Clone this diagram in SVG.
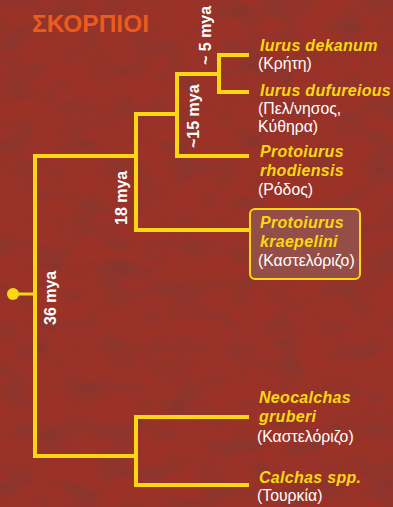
<svg xmlns="http://www.w3.org/2000/svg" width="393" height="507" viewBox="0 0 393 507">
  <defs>
    <filter id="grain" x="0" y="0" width="100%" height="100%">
      <feTurbulence type="fractalNoise" baseFrequency="0.03 0.05" numOctaves="5" seed="7" result="n"/>
      <feColorMatrix in="n" type="matrix" values="0 0 0 0 0.22  0 0 0 0 0.04  0 0 0 0 0.03  3.2 0 0 0 -1.45" result="d"/>
    </filter>
  </defs>
  <style>
    .bg { fill: #9a3228; }
    .tex { fill: #000; filter: url(#grain); opacity: 0.6; }
    .title { font-family: "Liberation Sans", Arial, sans-serif; font-weight: bold; font-size: 24px; fill: #ea5b1c; }
    .branch { fill: none; stroke: #f9d713; stroke-width: 4; stroke-linejoin: miter; stroke-linecap: butt; }
    .age { font-family: "Liberation Sans", Arial, sans-serif; font-weight: bold; font-size: 16px; fill: #ffffff; }
    .sp { font-family: "Liberation Sans", Arial, sans-serif; font-weight: bold; font-style: italic; font-size: 16px; letter-spacing: 0.3px; fill: #f9d713; }
    .loc { font-family: "Liberation Sans", Arial, sans-serif; font-size: 15.8px; fill: #ffffff; }
    .hl { fill: #94514a; fill-opacity: 0.9; stroke: #f9d713; stroke-width: 2; }
  </style>

  <rect class="bg" x="0" y="0" width="393" height="507"/>
  <rect class="tex" x="0" y="0" width="393" height="507"/>

  <text class="title" x="32" y="32" textLength="117" lengthAdjust="spacingAndGlyphs">ΣΚΟΡΠΙΟΙ</text>

  <g id="connectors">
    <line class="branch" x1="13" y1="294" x2="35" y2="294" style="stroke-width:3"/>
    <path class="branch" d="M136,156 H35 V456 H136"/>
    <path class="branch" d="M177,114 H136 V230 H249"/>
    <path class="branch" d="M219,74 H177 V156 H249"/>
    <path class="branch" d="M249,55 H219 V92 H249"/>
    <path class="branch" d="M249,417 H136 V485 H249"/>
    <text class="age" transform="translate(211,65) rotate(-90)">~ 5 mya</text>
    <text class="age" transform="translate(199,148) rotate(-90)">~15 mya</text>
    <text class="age" transform="translate(127,225) rotate(-90)">18 mya</text>
    <text class="age" transform="translate(55.5,325) rotate(-90)">36 mya</text>
  </g>

  <g id="root">
    <circle cx="13" cy="294" r="6" fill="#f9d713"/>
  </g>

  <g id="iurus-dekanum">
    <text class="sp" x="260" y="51">Iurus dekanum</text>
    <text class="loc" x="258" y="69">(Κρήτη)</text>
  </g>

  <g id="iurus-dufureious">
    <text class="sp" x="260" y="96">Iurus dufureious</text>
    <text class="loc" x="258" y="114">(Πελ/νησος,</text>
    <text class="loc" x="258" y="132">Κύθηρα)</text>
  </g>

  <g id="protoiurus-rhodiensis">
    <text class="sp" x="260" y="157">Protoiurus</text>
    <text class="sp" x="260" y="176">rhodiensis</text>
    <text class="loc" x="258" y="195">(Ρόδος)</text>
  </g>

  <g id="protoiurus-kraepelini">
    <rect class="hl" x="250" y="209" width="110" height="70" rx="5" ry="5"/>
    <text class="sp" x="260" y="228">Protoiurus</text>
    <text class="sp" x="260" y="247">kraepelini</text>
    <text class="loc" x="258" y="266">(Καστελόριζο)</text>
  </g>

  <g id="neocalchas-gruberi">
    <text class="sp" x="259" y="403">Neocalchas</text>
    <text class="sp" x="259" y="422">gruberi</text>
    <text class="loc" x="257" y="442">(Καστελόριζο)</text>
  </g>

  <g id="calchas-spp">
    <text class="sp" x="259" y="483">Calchas spp.</text>
    <text class="loc" x="257" y="501">(Τουρκία)</text>
  </g>
</svg>
